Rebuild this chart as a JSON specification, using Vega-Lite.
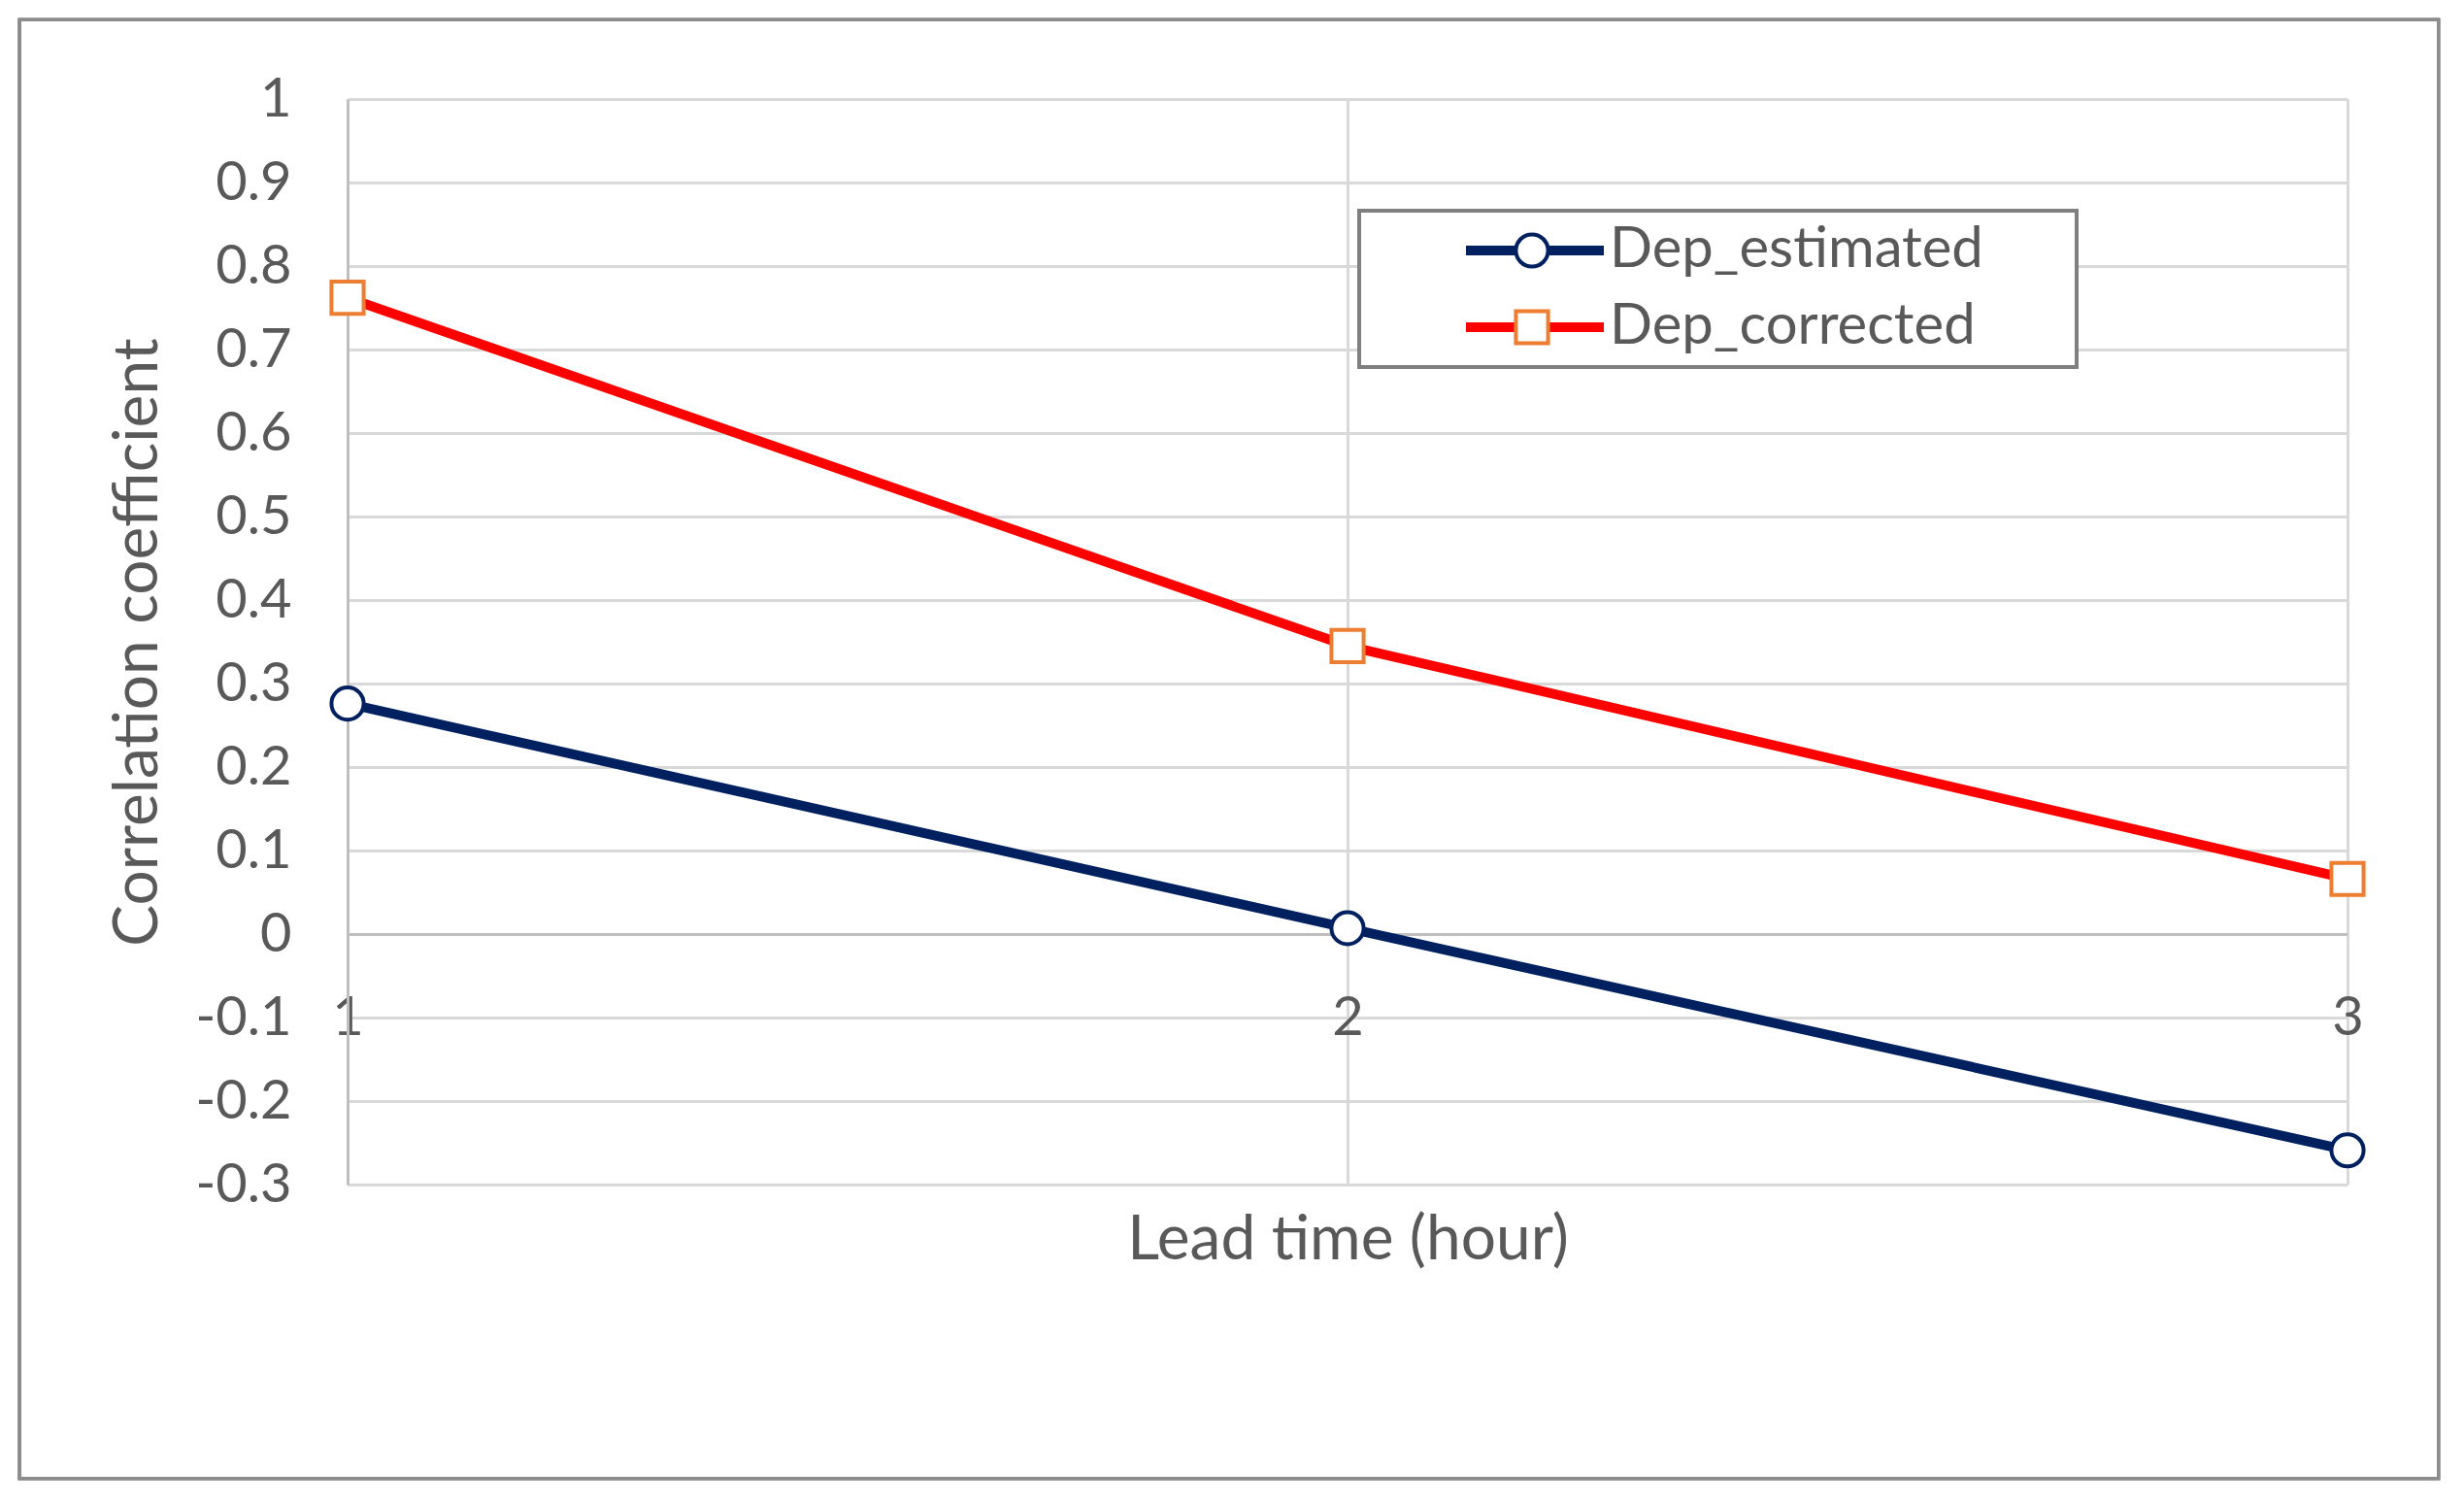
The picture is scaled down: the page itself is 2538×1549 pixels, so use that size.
{
  "$schema": "https://vega.github.io/schema/vega-lite/v6.json",
  "width": 2060,
  "height": 1118,
  "padding": {"left": 18, "top": 18, "right": 20, "bottom": 20},
  "background": "white",
  "config": {
    "view": {"stroke": null},
    "font": "Lato",
    "legend": {"strokeWidth": 4}
  },
  "data": {
    "values": [
      {"lead": 1, "series": "Dep_estimated", "r": 0.276},
      {"lead": 2, "series": "Dep_estimated", "r": 0.007},
      {"lead": 3, "series": "Dep_estimated", "r": -0.259},
      {"lead": 1, "series": "Dep_corrected", "r": 0.762},
      {"lead": 2, "series": "Dep_corrected", "r": 0.345},
      {"lead": 3, "series": "Dep_corrected", "r": 0.066}
    ]
  },
  "resolve": {"scale": {"x": "independent", "y": "independent"}, "axis": {"x": "independent", "y": "independent"}},
  "layer": [
    {
      "mark": {"type": "rect", "fillOpacity": 0, "stroke": "#8c8c8c", "strokeWidth": 3, "clip": false},
      "encoding": {
        "x": {"datum": 0.672, "type": "quantitative", "scale": {"domain": [1, 3], "nice": false, "zero": false}, "axis": null},
        "x2": {"datum": 3.091},
        "y": {"datum": -0.652, "type": "quantitative", "scale": {"domain": [-0.3, 1], "nice": false, "zero": false}, "axis": null},
        "y2": {"datum": 1.095}
      }
    },
    {
      "layer": [
        {
          "mark": {"type": "line", "strokeWidth": 10, "strokeCap": "round", "strokeJoin": "round"},
          "encoding": {
            "color": {
              "field": "series", "type": "nominal",
              "scale": {"domain": ["Dep_estimated", "Dep_corrected"], "range": ["#002060", "#FF0000"]},
              "legend": {
                "orient": "none", "legendX": 1042, "legendY": 115, "title": null,
                "symbolType": "M-3.55,0H3.55", "symbolSize": 1600, "symbolStrokeWidth": 10,
                "symbolOffset": 140,
                "labelFontSize": 58, "labelColor": "#595959", "labelOffset": 48, "labelLimit": 2000,
                "labelExpr": "datum.label + '\u2800\u2800'",
                "strokeColor": "#7f7f7f", "fillColor": "white",
                "padding": 12, "rowPadding": 21, "zindex": 1
              }
            }
          }
        },
        {
          "mark": {"type": "point", "filled": true, "fill": "white", "size": 1100, "strokeWidth": 4, "opacity": 1},
          "encoding": {
            "shape": {
              "field": "series", "type": "nominal", "sort": "descending",
              "scale": {"range": ["circle", "square"]},
              "legend": {
                "orient": "none", "legendX": 1179, "legendY": 115, "title": null,
                "symbolSize": 1100, "symbolStrokeWidth": 4, "symbolFillColor": "white",
                "labelFontSize": 58, "labelExpr": "''", "labelOffset": 10,
                "strokeColor": "transparent", "fillColor": "transparent",
                "padding": 12, "rowPadding": 21, "zindex": 2
              }
            },
            "stroke": {
              "field": "series", "type": "nominal", "sort": "descending",
              "scale": {"range": ["#002060", "#ED7D31"]},
              "legend": {
                "orient": "none", "legendX": 1179, "legendY": 115, "title": null,
                "symbolSize": 1100, "symbolStrokeWidth": 4, "symbolFillColor": "white",
                "labelFontSize": 58, "labelExpr": "''", "labelOffset": 10,
                "strokeColor": "transparent", "fillColor": "transparent",
                "padding": 12, "rowPadding": 21, "zindex": 2
              }
            }
          }
        }
      ],
      "encoding": {
        "x": {
          "field": "lead", "type": "ordinal",
          "scale": {"type": "point", "padding": 0},
          "axis": {
            "grid": true, "labelAngle": 0,
            "labelFontSize": 56, "labelColor": "#595959", "labelPadding": 59,
            "labelOverlap": false,
            "ticks": false, "offset": -258,
            "domainColor": "#bfbfbf", "domainWidth": 3,
            "gridColor": "#d9d9d9", "gridWidth": 3,
            "title": "Lead time (hour)", "titleFontSize": 64, "titleColor": "#595959",
            "titleFontWeight": "normal", "titleY": 315, "titleBaseline": "middle"
          }
        },
        "y": {
          "field": "r", "type": "quantitative",
          "scale": {"domain": [-0.3, 1], "nice": false, "zero": false},
          "axis": {
            "values": [-0.3, -0.2, -0.1, 0, 0.1, 0.2, 0.3, 0.4, 0.5, 0.6, 0.7, 0.8, 0.9, 1],
            "tickCount": 14,
            "labelExpr": "replace(format(datum.value, '.1~f'), '\u2212', '-')",
            "labelFontSize": 56, "labelColor": "#595959", "labelPadding": 58,
            "labelOverlap": false, "grid": true,
            "ticks": false,
            "domainColor": "#bfbfbf", "domainWidth": 3,
            "gridColor": "#d9d9d9", "gridWidth": 3,
            "title": "Correlation coefficient", "titleFontSize": 64, "titleColor": "#595959",
            "titleFontWeight": "normal", "titleX": -216, "titleY": 559,
            "titleAngle": -90, "titleBaseline": "middle", "titleAlign": "center"
          }
        }
      }
    }
  ]
}
